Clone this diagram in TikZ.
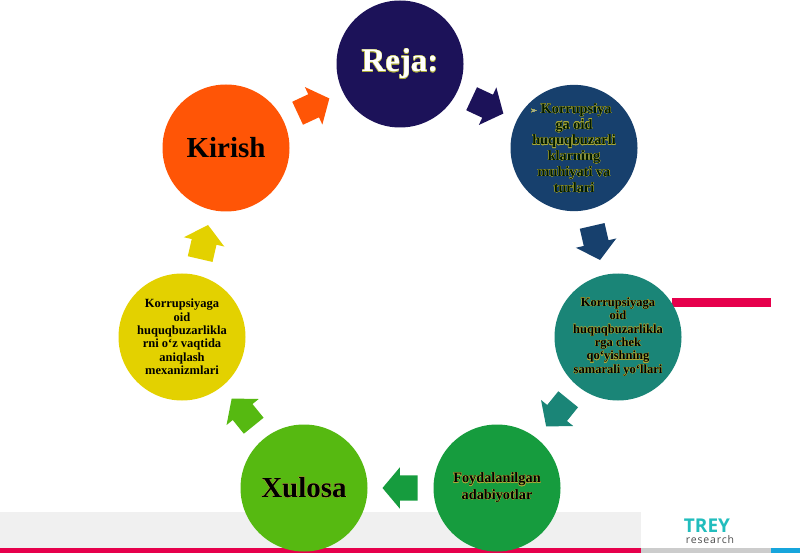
\documentclass[tikz,border=0pt]{standalone}
\usepackage{fontspec}
\setmainfont{Liberation Serif}
\newfontfamily\logofont{Open Sans}
\newfontfamily\markfont{DejaVu Sans}
\usepackage[copies]{contour}
\usetikzlibrary{calc}
\usetikzlibrary{shapes.arrows}
\usetikzlibrary{shapes.geometric}

\definecolor{rejac}{HTML}{1C1259}
\definecolor{korc}{HTML}{17406D}
\definecolor{tealc}{HTML}{1A8577}
\definecolor{foyc}{HTML}{169C3E}
\definecolor{xulc}{HTML}{56B911}
\definecolor{yelc}{HTML}{E3D100}
\definecolor{kirc}{HTML}{FF5506}
\definecolor{pinkc}{HTML}{E6004C}
\definecolor{bandc}{HTML}{F0F0F0}
\definecolor{logoc}{HTML}{22BDBD}
\definecolor{glowc}{HTML}{A8A838}

\contourlength{0.2pt}
\newcommand{\glow}[1]{\contour{glowc}{#1}}

\tikzset{
  ring/.style={circle, inner sep=0pt, outer sep=0pt, minimum size=127pt, align=center},
  big/.style={font=\fontsize{29}{32}\selectfont\bfseries},
  small/.style={font=\fontsize{12.5}{13.4}\selectfont\bfseries},
  mid/.style={font=\fontsize{14.3}{15.8}\selectfont\bfseries},
  blockarrow/.style={single arrow, draw=none, inner xsep=0pt, inner ysep=12.5pt, outer sep=0pt,
    minimum height=35pt, single arrow head extend=8pt, single arrow tip angle=100},
}

\begin{document}
\begin{tikzpicture}[x=1pt, y=-1pt]

\useasboundingbox (0,0) rectangle (800,553);

% bands at the foot
\fill[bandc] (0,512) rectangle (641,548);
\fill[pinkc] (0,548) rectangle (641,553);
\fill[black!20] (641,548) rectangle (771,553);
\fill[cyan!80!teal] (771,548) rectangle (800,553);
\fill[pinkc] (672,298) rectangle (771,307);

\node (reja) [ring, fill=rejac, text=white, font=\fontsize{33}{36}\selectfont\bfseries] at (400,64) {\raisebox{-3pt}{\contour{glowc}{Reja:}}};
\node (kor) [ellipse, inner sep=0pt, outer sep=0pt, minimum width=127pt, minimum height=120pt, align=center, mid, fill=korc, text=black!90!green] at (574,148) {\glow{\hspace{-6pt}{\fontsize{8}{8}\selectfont\markfont\textcolor{white!60!korc}{\char"27A2}}\ Korrupsiya}\\\glow{ga oid}\\\glow{huquqbuzarli}\\\glow{klarning}\\\glow{muhiyati va}\\\glow{turlari}};
\node (tealn) [ring, small, fill=tealc, text=black] at (618,337) {\glow{Korrupsiyaga}\\\glow{oid}\\\glow{huquqbuzarlikla}\\\glow{rga chek}\\\glow{qo`yishning}\\\glow{samarali yo`llari}};
\node (foy) [ring, mid, fill=foyc, text=black] at (497,488) {\glow{Foydalanilgan}\\[1pt]\glow{adabiyotlar}};
\node (xul) [ring, big, fill=xulc, text=black] at (304,488) {\glow{Xulosa}};
\node (yel) [ring, small, fill=yelc, text=black] at (182,337) {Korrupsiyaga\\oid\\huquqbuzarlikla\\rni o`z vaqtida\\aniqlash\\mexanizmlari};
\node (kir) [ring, big, fill=kirc, text=black] at (226,148) {Kirish};

\node (arr1) [blockarrow, fill=rejac, rotate=-25] at ($(reja)!0.475!(kor)$) {};
\node (arr2) [blockarrow, fill=korc, rotate=-77] at ($(kor)!0.475!(tealn)$) {};
\node (arr3) [blockarrow, fill=tealc, rotate=-129] at ($(tealn)!0.475!(foy)$) {};
\node (arr4) [blockarrow, fill=foyc, rotate=180] at ($(foy)!0.475!(xul)$) {};
\node (arr5) [blockarrow, fill=xulc, rotate=129] at ($(xul)!0.475!(yel)$) {};
\node (arr6) [blockarrow, fill=yelc, rotate=77] at ($(yel)!0.475!(kir)$) {};
\node (arr7) [blockarrow, fill=kirc, rotate=25] at ($(kir)!0.475!(reja)$) {};

\node (trey) [text=logoc, font=\fontsize{19}{19}\selectfont\logofont\bfseries, inner sep=0pt] at (707,526) {TREY};
\node (res) [text=black!70, font=\fontsize{10.5}{10.5}\selectfont\logofont\addfontfeature{LetterSpace=8}, inner sep=0pt] at (710,540) {research};

\end{tikzpicture}
\end{document}
